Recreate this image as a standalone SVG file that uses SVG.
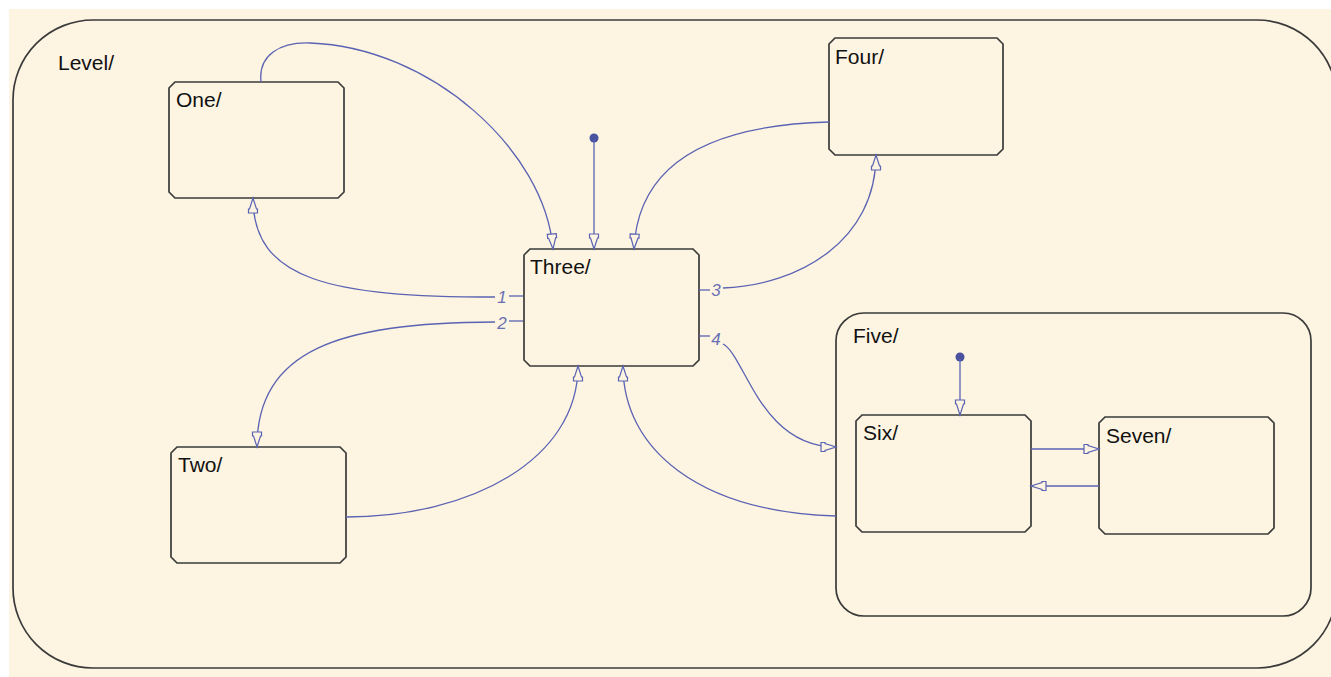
<svg xmlns="http://www.w3.org/2000/svg" width="1331" height="677" viewBox="0 0 1331 677">
<style>
.bg{fill:#fdf4e1}
.box{fill:#fdf4e1;stroke:#3a3a3a;stroke-width:1.7}
.name{font-family:"Liberation Sans",Arial,sans-serif;font-size:21px;fill:#111}
.tr{fill:none;stroke:#5a63b3;stroke-width:1.3}
.num{font-family:"Liberation Sans",Arial,sans-serif;font-size:17px;font-style:italic;fill:#6a70b4;text-anchor:middle}
.dot{fill:#4a529f}
</style>
<defs>
<marker id="arr" viewBox="-1 -6 18 12" refX="15" refY="0" markerWidth="18" markerHeight="12" markerUnits="userSpaceOnUse" orient="auto">
<path d="M0,-4.5 L4,-4.5 L4,-3.5 L15,0 L4,3.5 L4,4.5 L0,4.5 Z" fill="#fdf4e1" stroke="#5a63b3" stroke-width="1.2" stroke-linejoin="miter"/>
</marker>
</defs>
<rect x="0" y="0" width="1331" height="677" fill="#ffffff"/>
<rect class="bg" x="9" y="9" width="1322" height="668"/>

<g id="Level">
<rect class="box" x="13" y="20" width="1324" height="648" rx="80" ry="80"/>
<text class="name" x="58" y="70">Level/</text>
</g>
<g id="One">
<polygon class="box" points="175,82 338,82 344,88 344,192 338,198 175,198 169,192 169,88"/>
<text class="name" x="176" y="107">One/</text>
</g>
<g id="Two">
<polygon class="box" points="177,447 340,447 346,453 346,557 340,563 177,563 171,557 171,453"/>
<text class="name" x="178" y="472">Two/</text>
</g>
<g id="Three">
<polygon class="box" points="530,249 693,249 699,255 699,360 693,366 530,366 524,360 524,255"/>
<text class="name" x="530" y="274">Three/</text>
</g>
<g id="Four">
<polygon class="box" points="835,38 997,38 1003,44 1003,149 997,155 835,155 829,149 829,44"/>
<text class="name" x="835" y="64">Four/</text>
</g>
<g id="Five">
<rect class="box" x="836" y="313" width="475" height="303" rx="28" ry="28"/>
<text class="name" x="853" y="343">Five/</text>
</g>
<g id="Six">
<polygon class="box" points="862,415 1025,415 1031,421 1031,526 1025,532 862,532 856,526 856,421"/>
<text class="name" x="863" y="440">Six/</text>
</g>
<g id="Seven">
<polygon class="box" points="1105,417 1268,417 1274,423 1274,528 1268,534 1105,534 1099,528 1099,423"/>
<text class="name" x="1106" y="443">Seven/</text>
</g>

<g id="connectors">
<circle class="dot" cx="594" cy="138" r="4.5"/>
<path class="tr" d="M594,140 L594,249" marker-end="url(#arr)"/>
<circle class="dot" cx="960" cy="357" r="4.5"/>
<path class="tr" d="M960,359 L960,415" marker-end="url(#arr)"/>

<path class="tr" d="M261,82 C258,55 280,42 310,43 C430,47 545,150 553,249" marker-end="url(#arr)"/>
<path class="tr" d="M829,122 C715,125 638,160 634,249" marker-end="url(#arr)"/>

<path class="tr" d="M523,296 L509,296"/>
<path class="tr" d="M495,297 C330,297 253,280 253,198" marker-end="url(#arr)"/>
<text class="num" x="502" y="303">1</text>

<path class="tr" d="M523,321 L509,321"/>
<path class="tr" d="M495,322 C340,322 257,350 257,447" marker-end="url(#arr)"/>
<text class="num" x="502" y="329">2</text>

<path class="tr" d="M699,290 L710,290"/>
<path class="tr" d="M723,288 C800,285 876,240 876,155" marker-end="url(#arr)"/>
<text class="num" x="716" y="296">3</text>

<path class="tr" d="M699,336 L710,336"/>
<path class="tr" d="M723,344 C745,355 760,447 836,447" marker-end="url(#arr)"/>
<text class="num" x="716" y="345">4</text>

<path class="tr" d="M346,517 C470,517 578,460 578,366" marker-end="url(#arr)"/>
<path class="tr" d="M836,516 C700,512 623,450 623,366" marker-end="url(#arr)"/>

<path class="tr" d="M1031,449 L1099,449" marker-end="url(#arr)"/>
<path class="tr" d="M1099,486 L1031,486" marker-end="url(#arr)"/>
</g>
</svg>
